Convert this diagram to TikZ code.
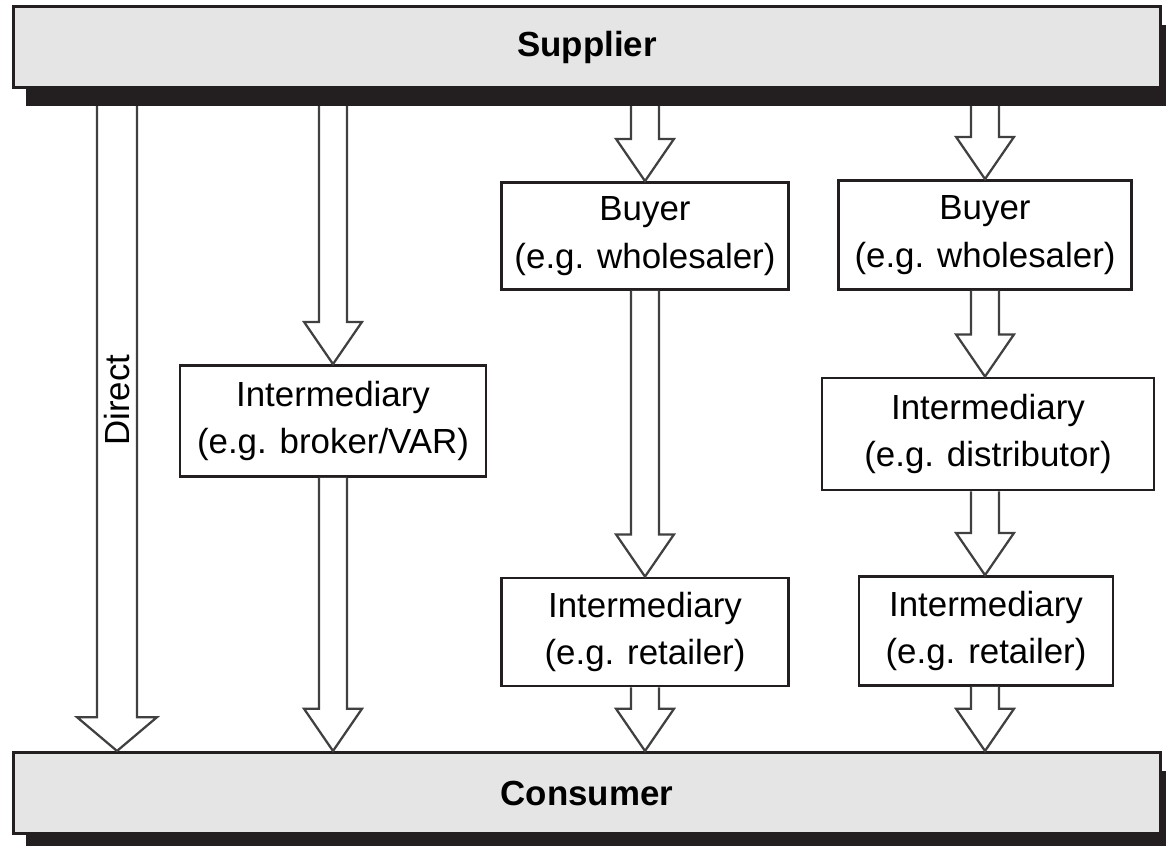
\documentclass[tikz,border=0pt]{standalone}
\usepackage{fontspec}
\setmainfont{Liberation Sans}
\usepackage{tikz}
\usetikzlibrary{calc}

\definecolor{barfill}{HTML}{E5E5E5}
\definecolor{shadowink}{HTML}{231F20}

% hollow block arrow: start, tip, shaft half width, head half width, head length
\newcommand{\flowarrow}[5]{%
  \draw[flow] let \p1=#1, \p2=#2 in
    (\x1-#3,\y1) -- (\x1-#3,\y2+#5) -- (\x1-#4,\y2+#5) -- (\x1,\y2)
    -- (\x1+#4,\y2+#5) -- (\x1+#3,\y2+#5) -- (\x1+#3,\y1);}

\begin{document}
\begin{tikzpicture}[x=0.0125cm,y=-0.0125cm,
  bar/.style={draw=shadowink,line width=1.1pt,fill=barfill,inner sep=0pt,
    minimum width=14.325cm,minimum height=1.0125cm,font=\fontsize{12.4}{15}\selectfont\bfseries},
  barshadow/.style={fill=shadowink,inner sep=0pt,minimum width=14.325cm,minimum height=1.0125cm},
  chain/.style={draw=shadowink,line width=1pt,fill=white,align=center,inner sep=0pt,
    font=\fontsize{12.4}{17}\selectfont},
  flow/.style={draw=black!75,line width=0.8pt,fill=white,line join=miter}]
\useasboundingbox (0,0) rectangle (1166,845);

\node[barshadow] (supsh) at (599,65) {};
\node[bar] (sup) at (587,47) {Supplier};
\node[barshadow] (consh) at (599,811) {};
\node[bar] (con) at (587,793) {Consumer};

\node[chain,minimum width=3.825cm,minimum height=1.3875cm] (broker) at (333,421) {Intermediary\\(e.g. broker/VAR)};
\node[chain,minimum width=3.5875cm,minimum height=1.3375cm] (buyerA) at (645,236) {Buyer\\(e.g. wholesaler)};
\node[chain,minimum width=3.5875cm,minimum height=1.35cm] (retailA) at (645,632) {Intermediary\\(e.g. retailer)};
\node[chain,minimum width=3.6625cm,minimum height=1.3625cm] (buyerB) at (985,235) {Buyer\\(e.g. wholesaler)};
\node[chain,minimum width=4.15cm,minimum height=1.4cm] (distrib) at (988,434) {Intermediary\\(e.g. distributor)};
\node[chain,minimum width=3.175cm,minimum height=1.3625cm] (retailB) at (986,631) {Intermediary\\(e.g. retailer)};
\coordinate (direct) at (117,400);

% direct channel
\flowarrow{(supsh.south -| direct)}{(con.north -| direct)}{7.1pt}{14.2pt}{12pt}
\node[rotate=90,font=\fontsize{12.4}{15}\selectfont] at (direct) {Direct};

% broker channel
\flowarrow{(supsh.south -| broker)}{(broker.north)}{5pt}{10.3pt}{15pt}
\flowarrow{(broker.south)}{(con.north -| broker)}{5pt}{10.3pt}{15pt}

% wholesaler and retailer
\flowarrow{(supsh.south -| buyerA)}{(buyerA.north)}{5pt}{10.3pt}{15pt}
\flowarrow{(buyerA.south)}{(retailA.north)}{5pt}{10.3pt}{15pt}
\flowarrow{(retailA.south)}{(con.north -| retailA)}{5pt}{10.3pt}{15pt}

% wholesaler, distributor and retailer
\flowarrow{(supsh.south -| buyerB)}{(buyerB.north)}{5pt}{10.3pt}{15pt}
\flowarrow{(buyerB.south)}{(distrib.north -| buyerB)}{5pt}{10.3pt}{15pt}
\flowarrow{(distrib.south -| buyerB)}{(retailB.north -| buyerB)}{5pt}{10.3pt}{15pt}
\flowarrow{(retailB.south -| buyerB)}{(con.north -| buyerB)}{5pt}{10.3pt}{15pt}
\end{tikzpicture}
\end{document}
